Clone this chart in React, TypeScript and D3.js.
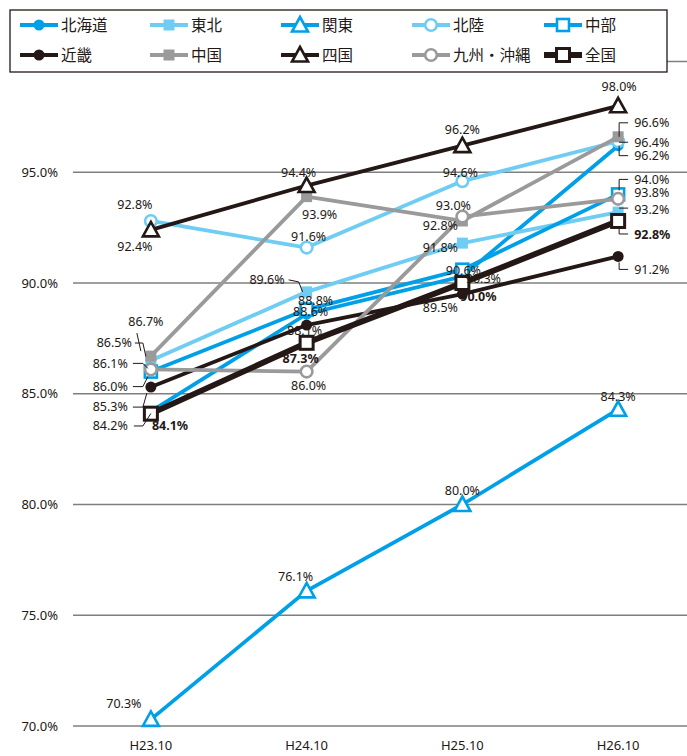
import React from "react";
import * as d3 from "d3";

// Survey periods
const categories = ["H23.10", "H24.10", "H25.10", "H26.10"];

// Rates (%) per region
const hokkaido = [84.2, 88.6, 90.3, 96.2];
const tohoku = [86.5, 89.6, 91.8, 93.2];
const kanto = [70.3, 76.1, 80.0, 84.3];
const hokuriku = [92.8, 91.6, 94.6, 96.4];
const chubu = [86.0, 88.8, 90.6, 94.0];
const kinki = [85.3, 88.1, 89.5, 91.2];
const chugoku = [86.7, 93.9, 92.8, 96.6];
const shikoku = [92.4, 94.4, 96.2, 98.0];
const kyushu = [86.1, 86.0, 93.0, 93.8];
const national = [84.1, 87.3, 90.0, 92.8];

const yTicks = [70, 75, 80, 85, 90, 95, 100];

const BLUE = "#00a0e9";
const LIGHT = "#6fcdf4";
const BLACK = "#231815";
const GRAY = "#9a9a9a";

type Marker = "dot" | "sq" | "tri" | "ring" | "box";
interface Series {
  name: string;
  values: number[];
  color: string;
  marker: Marker;
  width: number;
  bold?: boolean;
}

const series: Series[] = [
  { name: "北海道", values: hokkaido, color: BLUE, marker: "dot", width: 3.8 },
  { name: "東北", values: tohoku, color: LIGHT, marker: "sq", width: 3.8 },
  { name: "関東", values: kanto, color: BLUE, marker: "tri", width: 3.8 },
  { name: "北陸", values: hokuriku, color: LIGHT, marker: "ring", width: 3.8 },
  { name: "中部", values: chubu, color: BLUE, marker: "box", width: 3.8 },
  { name: "近畿", values: kinki, color: BLACK, marker: "dot", width: 3.8 },
  { name: "中国", values: chugoku, color: GRAY, marker: "sq", width: 3.8 },
  { name: "四国", values: shikoku, color: BLACK, marker: "tri", width: 3.8 },
  { name: "九州・沖縄", values: kyushu, color: GRAY, marker: "ring", width: 3.8 },
  { name: "全国", values: national, color: BLACK, marker: "box", width: 5.8, bold: true },
];

// Label placement relative to each point: [dx, dy, anchor, leader polyline]
type Pt = [number, number];
type Place = [number, number, "start" | "middle" | "end", Pt[]?];
const placement: Record<string, Place[]> = {
  北海道: [
    [-23, 14.5, "end", [[-17, 14.5], [-8, 14.5], [0, 2]]],
    [4, -2, "middle"],
    [21, 2, "middle"],
    [16, 10, "start", [[1, 0], [1, 10], [10, 10]]],
  ],
  東北: [
    [-19, -17.5, "end", [[-16, -17.5], [-8, -17.5], [-5, -4]]],
    [-22, -12, "end", [[-18, -12], [-8, -10], [-4, 0]]],
    [-22, 4, "middle"],
    [16, -2, "start", [[1, -4], [10, -4]]],
  ],
  関東: [
    [-27, -16, "middle"],
    [-11, -14, "middle"],
    [0, -14, "middle"],
    [0, -13, "middle"],
  ],
  北陸: [
    [-16, -16, "middle"],
    [2, -11, "middle"],
    [-2, -8, "middle"],
    [16, 1, "start", [[1, 1], [10, 1]]],
  ],
  中部: [
    [-23, 15, "end", [[-18, 15], [-8, 15], [-3, 5]]],
    [9, -9, "middle"],
    [1, 1, "middle"],
    [16, -15, "start", [[10, -15], [1, -15], [1, -4]]],
  ],
  近畿: [
    [-23, 20, "end", [[-18, 20], [-8, 20], [-4, 6]]],
    [-2, 6, "middle"],
    [-22, 14, "middle"],
    [16, 13, "start", [[1, 6], [1, 13], [10, 13]]],
  ],
  中国: [
    [-5, -34, "middle", [[-14, -23], [-10, -5]]],
    [13, 18, "middle"],
    [-22, 5, "middle"],
    [16, -14, "start", [[10, -14], [1, -14], [1, 0]]],
  ],
  四国: [
    [-16, 17, "middle"],
    [-8, -13, "middle"],
    [0, -16, "middle"],
    [1, -19, "middle"],
  ],
  "九州・沖縄": [
    [-23, -6, "end", [[-18, -6], [-8, -6], [-3, -1]]],
    [2, 14, "middle"],
    [-9, -11, "middle"],
    [16, -6, "start"],
  ],
  全国: [
    [1, 12, "start"],
    [-6, 16, "middle"],
    [16, 14, "middle"],
    [16, 14, "start", [[1, 6], [1, 13], [10, 13]]],
  ],
};

const W = 687;
const H = 756;
const LABEL_FONT = "'Noto Sans', sans-serif";
const CJK_FONT = "'Noto Sans CJK JP', sans-serif";

function MarkerShape({ m, color, x, y, big }: { m: Marker; color: string; x: number; y: number; big?: boolean }) {
  switch (m) {
    case "dot":
      return <circle cx={x} cy={y} r={5.5} fill={color} />;
    case "sq":
      return <rect x={x - 5.5} y={y - 5.5} width={11} height={11} fill={color} />;
    case "tri":
      return (
        <path
          d={`M${x},${y - 8} L${x + 8},${y + 6.5} L${x - 8},${y + 6.5} Z`}
          fill="#fff"
          stroke={color}
          strokeWidth={2.6}
          strokeLinejoin="miter"
        />
      );
    case "ring":
      return <circle cx={x} cy={y} r={5.8} fill="#fff" stroke={color} strokeWidth={2.6} />;
    case "box": {
      const s = big ? 13 : 12;
      return (
        <rect x={x - s / 2} y={y - s / 2} width={s} height={s} fill="#fff" stroke={color} strokeWidth={big ? 3 : 2.6} />
      );
    }
  }
}

export default function App() {
  const x = d3.scaleBand<string>().domain(categories).range([73, 696]);
  const cx = (c: string) => (x(c) ?? 0) + x.bandwidth() / 2;
  const y = d3.scaleLinear().domain([70, 100]).range([726, 61.5]);
  const line = d3
    .line<number>()
    .x((_, i) => cx(categories[i]))
    .y((v) => y(v));

  const legendCols = [20, 150, 281, 412, 544];
  const legendRows = [25, 55];

  return (
    <svg
      width={W}
      height={H}
      style={{ position: "absolute", left: 0, top: 0, background: "#fff" }}
      xmlns="http://www.w3.org/2000/svg"
    >
      <rect width={W} height={H} fill="#fff" />
      {/* gridlines and y axis */}
      {yTicks.map((t) => (
        <g key={t}>
          <line x1={73} x2={W} y1={y(t)} y2={y(t)} stroke="#7f7f7f" strokeWidth={1.4} />
          <text
            x={58}
            y={y(t)}
            dy="0.35em"
            textAnchor="end"
            fontFamily={LABEL_FONT}
            fontSize={13}
            fill="#231815"
          >
            {d3.format(".1f")(t)}%
          </text>
        </g>
      ))}
      {/* x axis labels */}
      {categories.map((c) => (
        <text key={c} x={cx(c)} y={745} dy="0.35em" textAnchor="middle" fontFamily={LABEL_FONT} fontSize={13} fill="#231815">
          {c}
        </text>
      ))}
      {/* series */}
      {series.map((s) => (
        <g key={s.name}>
          <path d={line(s.values) ?? ""} fill="none" stroke={s.color} strokeWidth={s.width} strokeLinejoin="round" />
          {s.values.map((v, i) => (
            <MarkerShape key={i} m={s.marker} color={s.color} x={cx(categories[i])} y={y(v)} big={s.bold} />
          ))}
        </g>
      ))}
      {/* data labels */}
      {series.map((s) =>
        s.values.map((v, i) => {
          const px = cx(categories[i]);
          const py = y(v);
          const [dx, dy, anchor, leader] = placement[s.name][i];
          return (
            <g key={s.name + i}>
              {leader && (
                <polyline
                  points={leader.map(([a, b]) => `${px + a},${py + b}`).join(" ")}
                  fill="none"
                  stroke="#231815"
                  strokeWidth={1}
                />
              )}
              <text
                x={px + dx}
                y={py + dy}
                dy="0.35em"
                textAnchor={anchor}
                fontFamily={LABEL_FONT}
                fontSize={12.5}
                fontWeight={s.bold ? "bold" : "normal"}
                fill="#231815"
              >
                {d3.format(".1f")(v)}%
              </text>
            </g>
          );
        })
      )}
      {/* legend */}
      <rect x={10} y={10} width={657} height={62} fill="#fff" stroke="#231815" strokeWidth={1.3} />
      {series.map((s, i) => {
        const lx = legendCols[i % 5];
        const ly = legendRows[Math.floor(i / 5)];
        return (
          <g key={"lg" + s.name}>
            <line x1={lx} x2={lx + 38} y1={ly} y2={ly} stroke={s.color} strokeWidth={s.width} />
            <MarkerShape m={s.marker} color={s.color} x={lx + 19} y={ly} big={s.bold} />
            <text x={lx + 41} y={ly} dy="0.36em" fontFamily={CJK_FONT} fontSize={15.5} fill="#231815">
              {s.name}
            </text>
          </g>
        );
      })}
    </svg>
  );
}
